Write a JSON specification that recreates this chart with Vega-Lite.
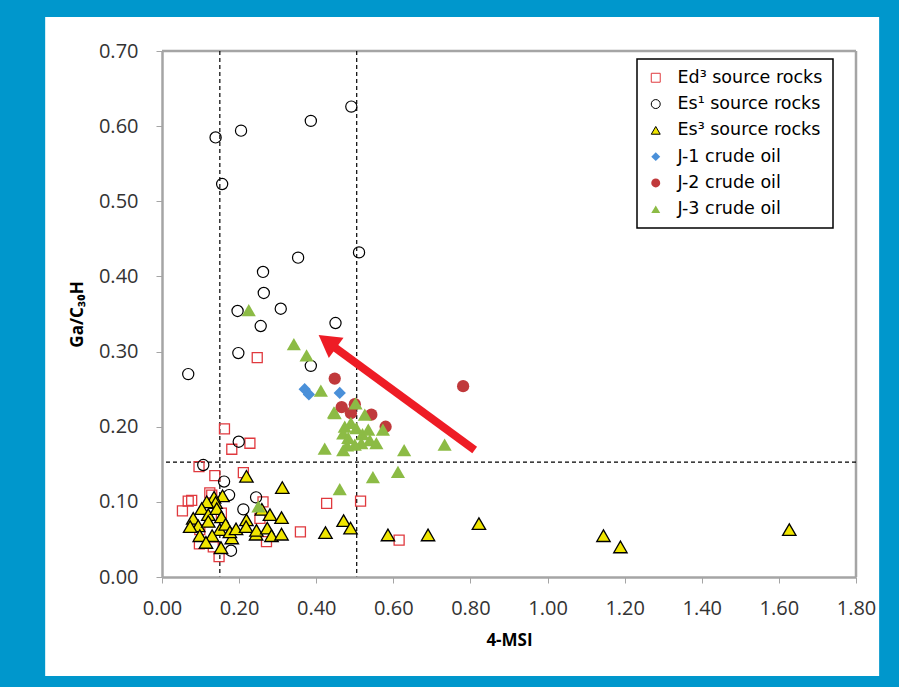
{
  "$schema": "https://vega.github.io/schema/vega-lite/v6.json",
  "width": 694,
  "height": 526,
  "autosize": {"type": "none"},
  "padding": {"left": 162, "top": 51, "right": 43, "bottom": 110},
  "background": "#0097CC",
  "config": {
    "view": {"stroke": null},
    "axis": {
      "grid": false,
      "domainColor": "#A5A5A5", "domainWidth": 2.5,
      "tickColor": "#A5A5A5", "tickSize": 6, "tickWidth": 1,
      "labelFont": "Open Sans", "labelFontSize": 20, "labelColor": "#333333",
      "titleFont": "Open Sans", "titleFontSize": 17, "titleFontWeight": "bold", "titleColor": "#000000",
      "labelFlush": false, "labelOverlap": false
    },
    "legend": {
      "orient": "none", "legendX": 475, "legendY": 8,
      "strokeColor": "#000000", "strokeWidth": 1.5, "fillColor": "#FFFFFF",
      "padding": 10, "cornerRadius": 0,
      "labelFont": "DejaVu Sans", "labelFontSize": 17.5, "labelColor": "#000000",
      "symbolSize": 80, "rowPadding": 7.3, "labelOffset": 13, "symbolStrokeWidth": 1
    }
  },
  "data": {"values": [
    {"g": "Ed³ source rocks", "x": 0.162, "y": 0.197},
    {"g": "Ed³ source rocks", "x": 0.228, "y": 0.178},
    {"g": "Ed³ source rocks", "x": 0.181, "y": 0.170},
    {"g": "Ed³ source rocks", "x": 0.096, "y": 0.147},
    {"g": "Ed³ source rocks", "x": 0.137, "y": 0.135},
    {"g": "Ed³ source rocks", "x": 0.211, "y": 0.139},
    {"g": "Ed³ source rocks", "x": 0.247, "y": 0.292},
    {"g": "Ed³ source rocks", "x": 0.053, "y": 0.088},
    {"g": "Ed³ source rocks", "x": 0.077, "y": 0.102},
    {"g": "Ed³ source rocks", "x": 0.068, "y": 0.101},
    {"g": "Ed³ source rocks", "x": 0.129, "y": 0.109},
    {"g": "Ed³ source rocks", "x": 0.124, "y": 0.112},
    {"g": "Ed³ source rocks", "x": 0.154, "y": 0.085},
    {"g": "Ed³ source rocks", "x": 0.098, "y": 0.063},
    {"g": "Ed³ source rocks", "x": 0.097, "y": 0.044},
    {"g": "Ed³ source rocks", "x": 0.133, "y": 0.040},
    {"g": "Ed³ source rocks", "x": 0.148, "y": 0.027},
    {"g": "Ed³ source rocks", "x": 0.254, "y": 0.078},
    {"g": "Ed³ source rocks", "x": 0.262, "y": 0.100},
    {"g": "Ed³ source rocks", "x": 0.271, "y": 0.047},
    {"g": "Ed³ source rocks", "x": 0.359, "y": 0.060},
    {"g": "Ed³ source rocks", "x": 0.427, "y": 0.098},
    {"g": "Ed³ source rocks", "x": 0.515, "y": 0.101},
    {"g": "Ed³ source rocks", "x": 0.615, "y": 0.049},
    {"g": "Es¹ source rocks", "x": 0.139, "y": 0.585},
    {"g": "Es¹ source rocks", "x": 0.205, "y": 0.594},
    {"g": "Es¹ source rocks", "x": 0.386, "y": 0.607},
    {"g": "Es¹ source rocks", "x": 0.491, "y": 0.626},
    {"g": "Es¹ source rocks", "x": 0.156, "y": 0.523},
    {"g": "Es¹ source rocks", "x": 0.511, "y": 0.432},
    {"g": "Es¹ source rocks", "x": 0.353, "y": 0.425},
    {"g": "Es¹ source rocks", "x": 0.262, "y": 0.406},
    {"g": "Es¹ source rocks", "x": 0.264, "y": 0.378},
    {"g": "Es¹ source rocks", "x": 0.308, "y": 0.357},
    {"g": "Es¹ source rocks", "x": 0.196, "y": 0.354},
    {"g": "Es¹ source rocks", "x": 0.256, "y": 0.334},
    {"g": "Es¹ source rocks", "x": 0.450, "y": 0.338},
    {"g": "Es¹ source rocks", "x": 0.198, "y": 0.298},
    {"g": "Es¹ source rocks", "x": 0.068, "y": 0.270},
    {"g": "Es¹ source rocks", "x": 0.386, "y": 0.281},
    {"g": "Es¹ source rocks", "x": 0.199, "y": 0.180},
    {"g": "Es¹ source rocks", "x": 0.107, "y": 0.149},
    {"g": "Es¹ source rocks", "x": 0.161, "y": 0.127},
    {"g": "Es¹ source rocks", "x": 0.174, "y": 0.109},
    {"g": "Es¹ source rocks", "x": 0.244, "y": 0.106},
    {"g": "Es¹ source rocks", "x": 0.211, "y": 0.090},
    {"g": "Es¹ source rocks", "x": 0.179, "y": 0.035},
    {"g": "Es³ source rocks", "x": 0.219, "y": 0.134},
    {"g": "Es³ source rocks", "x": 0.312, "y": 0.119},
    {"g": "Es³ source rocks", "x": 0.157, "y": 0.108},
    {"g": "Es³ source rocks", "x": 0.135, "y": 0.106},
    {"g": "Es³ source rocks", "x": 0.139, "y": 0.099},
    {"g": "Es³ source rocks", "x": 0.116, "y": 0.100},
    {"g": "Es³ source rocks", "x": 0.103, "y": 0.091},
    {"g": "Es³ source rocks", "x": 0.081, "y": 0.078},
    {"g": "Es³ source rocks", "x": 0.120, "y": 0.083},
    {"g": "Es³ source rocks", "x": 0.142, "y": 0.091},
    {"g": "Es³ source rocks", "x": 0.154, "y": 0.080},
    {"g": "Es³ source rocks", "x": 0.094, "y": 0.068},
    {"g": "Es³ source rocks", "x": 0.073, "y": 0.067},
    {"g": "Es³ source rocks", "x": 0.120, "y": 0.074},
    {"g": "Es³ source rocks", "x": 0.150, "y": 0.063},
    {"g": "Es³ source rocks", "x": 0.165, "y": 0.070},
    {"g": "Es³ source rocks", "x": 0.098, "y": 0.055},
    {"g": "Es³ source rocks", "x": 0.130, "y": 0.055},
    {"g": "Es³ source rocks", "x": 0.114, "y": 0.046},
    {"g": "Es³ source rocks", "x": 0.153, "y": 0.039},
    {"g": "Es³ source rocks", "x": 0.181, "y": 0.052},
    {"g": "Es³ source rocks", "x": 0.176, "y": 0.060},
    {"g": "Es³ source rocks", "x": 0.192, "y": 0.064},
    {"g": "Es³ source rocks", "x": 0.219, "y": 0.076},
    {"g": "Es³ source rocks", "x": 0.218, "y": 0.067},
    {"g": "Es³ source rocks", "x": 0.244, "y": 0.057},
    {"g": "Es³ source rocks", "x": 0.245, "y": 0.062},
    {"g": "Es³ source rocks", "x": 0.259, "y": 0.090},
    {"g": "Es³ source rocks", "x": 0.280, "y": 0.083},
    {"g": "Es³ source rocks", "x": 0.310, "y": 0.079},
    {"g": "Es³ source rocks", "x": 0.273, "y": 0.065},
    {"g": "Es³ source rocks", "x": 0.284, "y": 0.055},
    {"g": "Es³ source rocks", "x": 0.310, "y": 0.057},
    {"g": "Es³ source rocks", "x": 0.424, "y": 0.059},
    {"g": "Es³ source rocks", "x": 0.471, "y": 0.075},
    {"g": "Es³ source rocks", "x": 0.489, "y": 0.065},
    {"g": "Es³ source rocks", "x": 0.586, "y": 0.056},
    {"g": "Es³ source rocks", "x": 0.690, "y": 0.056},
    {"g": "Es³ source rocks", "x": 0.822, "y": 0.071},
    {"g": "Es³ source rocks", "x": 1.145, "y": 0.055},
    {"g": "Es³ source rocks", "x": 1.189, "y": 0.040},
    {"g": "Es³ source rocks", "x": 1.627, "y": 0.063},
    {"g": "J-1 crude oil", "x": 0.370, "y": 0.250},
    {"g": "J-1 crude oil", "x": 0.381, "y": 0.243},
    {"g": "J-1 crude oil", "x": 0.461, "y": 0.245},
    {"g": "J-2 crude oil", "x": 0.448, "y": 0.264},
    {"g": "J-2 crude oil", "x": 0.466, "y": 0.226},
    {"g": "J-2 crude oil", "x": 0.490, "y": 0.218},
    {"g": "J-2 crude oil", "x": 0.500, "y": 0.230},
    {"g": "J-2 crude oil", "x": 0.543, "y": 0.216},
    {"g": "J-2 crude oil", "x": 0.580, "y": 0.200},
    {"g": "J-2 crude oil", "x": 0.781, "y": 0.254},
    {"g": "J-3 crude oil", "x": 0.225, "y": 0.355},
    {"g": "J-3 crude oil", "x": 0.342, "y": 0.310},
    {"g": "J-3 crude oil", "x": 0.375, "y": 0.295},
    {"g": "J-3 crude oil", "x": 0.412, "y": 0.248},
    {"g": "J-3 crude oil", "x": 0.448, "y": 0.218},
    {"g": "J-3 crude oil", "x": 0.446, "y": 0.219},
    {"g": "J-3 crude oil", "x": 0.502, "y": 0.231},
    {"g": "J-3 crude oil", "x": 0.526, "y": 0.216},
    {"g": "J-3 crude oil", "x": 0.573, "y": 0.196},
    {"g": "J-3 crude oil", "x": 0.490, "y": 0.205},
    {"g": "J-3 crude oil", "x": 0.474, "y": 0.200},
    {"g": "J-3 crude oil", "x": 0.470, "y": 0.191},
    {"g": "J-3 crude oil", "x": 0.483, "y": 0.185},
    {"g": "J-3 crude oil", "x": 0.504, "y": 0.198},
    {"g": "J-3 crude oil", "x": 0.520, "y": 0.190},
    {"g": "J-3 crude oil", "x": 0.535, "y": 0.196},
    {"g": "J-3 crude oil", "x": 0.539, "y": 0.182},
    {"g": "J-3 crude oil", "x": 0.556, "y": 0.178},
    {"g": "J-3 crude oil", "x": 0.517, "y": 0.178},
    {"g": "J-3 crude oil", "x": 0.500, "y": 0.176},
    {"g": "J-3 crude oil", "x": 0.480, "y": 0.175},
    {"g": "J-3 crude oil", "x": 0.470, "y": 0.169},
    {"g": "J-3 crude oil", "x": 0.422, "y": 0.171},
    {"g": "J-3 crude oil", "x": 0.628, "y": 0.169},
    {"g": "J-3 crude oil", "x": 0.733, "y": 0.176},
    {"g": "J-3 crude oil", "x": 0.612, "y": 0.140},
    {"g": "J-3 crude oil", "x": 0.547, "y": 0.133},
    {"g": "J-3 crude oil", "x": 0.461, "y": 0.117},
    {"g": "J-3 crude oil", "x": 0.250, "y": 0.094}
  ]},
  "layer": [
    {
      "data": {"values": [{}]},
      "mark": {"type": "rect", "fill": "#FFFFFF", "clip": false},
      "encoding": {
        "x": {"datum": -0.303, "type": "quantitative",
              "scale": {"domain": [0, 1.8], "nice": false, "zero": false},
              "axis": {"title": "4-MSI", "zindex": 2, "values": [0, 0.2, 0.4, 0.6, 0.8, 1.0, 1.2, 1.4, 1.6, 1.8], "format": ".2f", "labelPadding": 15, "titlePadding": 14}},
        "x2": {"datum": 1.86},
        "y": {"datum": 0.7453, "type": "quantitative",
              "scale": {"domain": [0, 0.7], "nice": false, "zero": false},
              "axis": {"title": "Ga/C₃₀H", "zindex": 2, "values": [0, 0.1, 0.2, 0.3, 0.4, 0.5, 0.6, 0.7], "format": ".2f", "labelPadding": 18, "titlePadding": 12}},
        "y2": {"datum": -0.1318}
      }
    },
    {
      "data": {"values": [{}]},
      "mark": {"type": "rule", "color": "#A5A5A5", "strokeWidth": 2.5},
      "encoding": {"y": {"datum": 0.7, "type": "quantitative"}}
    },
    {
      "data": {"values": [{}]},
      "mark": {"type": "rule", "color": "#A5A5A5", "strokeWidth": 2.5},
      "encoding": {"x": {"datum": 1.8, "type": "quantitative"}}
    },
    {
      "data": {"values": [{}]},
      "mark": {"type": "rule", "color": "#000000", "strokeWidth": 1.2, "strokeDash": [4, 3]},
      "encoding": {"x": {"datum": 0.15, "type": "quantitative"}}
    },
    {
      "data": {"values": [{}]},
      "mark": {"type": "rule", "color": "#000000", "strokeWidth": 1.2, "strokeDash": [4, 3]},
      "encoding": {"x": {"datum": 0.505, "type": "quantitative"}}
    },
    {
      "data": {"values": [{}]},
      "mark": {"type": "rule", "color": "#000000", "strokeWidth": 1.2, "strokeDash": [4, 3]},
      "encoding": {"y": {"datum": 0.153, "type": "quantitative"}}
    },
    {
      "transform": [{"filter": "datum.g === 'Ed³ source rocks'"}],
      "mark": {"type": "point", "size": 100, "strokeWidth": 1.3, "opacity": 1},
      "encoding": {
        "x": {"field": "x", "type": "quantitative"},
        "y": {"field": "y", "type": "quantitative"},
        "shape": {"field": "g", "type": "nominal", "legend": {"title": null},
                  "scale": {"domain": ["Ed³ source rocks", "Es¹ source rocks", "Es³ source rocks", "J-1 crude oil", "J-2 crude oil", "J-3 crude oil"],
                            "range": ["square", "circle", "triangle-up", "diamond", "circle", "triangle-up"]}},
        "fill": {"field": "g", "type": "nominal", "legend": {"title": null},
                 "scale": {"domain": ["Ed³ source rocks", "Es¹ source rocks", "Es³ source rocks", "J-1 crude oil", "J-2 crude oil", "J-3 crude oil"],
                           "range": ["transparent", "transparent", "#F0E500", "#4A90D9", "#C0393B", "#8CBB45"]}},
        "stroke": {"field": "g", "type": "nominal", "legend": {"title": null},
                   "scale": {"domain": ["Ed³ source rocks", "Es¹ source rocks", "Es³ source rocks", "J-1 crude oil", "J-2 crude oil", "J-3 crude oil"],
                             "range": ["#E0393E", "#000000", "#000000", "transparent", "transparent", "transparent"]}}
      }
    },
    {
      "transform": [{"filter": "datum.g === 'Es¹ source rocks'"}],
      "mark": {"type": "point", "size": 125, "strokeWidth": 1.2, "opacity": 1},
      "encoding": {
        "x": {"field": "x", "type": "quantitative"},
        "y": {"field": "y", "type": "quantitative"},
        "shape": {"field": "g", "type": "nominal", "legend": {"title": null}},
        "fill": {"field": "g", "type": "nominal", "legend": {"title": null}},
        "stroke": {"field": "g", "type": "nominal", "legend": {"title": null}}
      }
    },
    {
      "transform": [{"filter": "datum.g === 'Es³ source rocks'"}],
      "mark": {"type": "point", "size": 180, "strokeWidth": 1.3, "opacity": 1},
      "encoding": {
        "x": {"field": "x", "type": "quantitative"},
        "y": {"field": "y", "type": "quantitative"},
        "shape": {"field": "g", "type": "nominal", "legend": {"title": null}},
        "fill": {"field": "g", "type": "nominal", "legend": {"title": null}},
        "stroke": {"field": "g", "type": "nominal", "legend": {"title": null}}
      }
    },
    {
      "transform": [{"filter": "datum.g === 'J-1 crude oil'"}],
      "mark": {"type": "point", "size": 150, "strokeWidth": 0, "opacity": 1},
      "encoding": {
        "x": {"field": "x", "type": "quantitative"},
        "y": {"field": "y", "type": "quantitative"},
        "shape": {"field": "g", "type": "nominal", "legend": {"title": null}},
        "fill": {"field": "g", "type": "nominal", "legend": {"title": null}},
        "stroke": {"field": "g", "type": "nominal", "legend": {"title": null}}
      }
    },
    {
      "transform": [{"filter": "datum.g === 'J-2 crude oil'"}],
      "mark": {"type": "point", "size": 150, "strokeWidth": 0, "opacity": 1},
      "encoding": {
        "x": {"field": "x", "type": "quantitative"},
        "y": {"field": "y", "type": "quantitative"},
        "shape": {"field": "g", "type": "nominal", "legend": {"title": null}},
        "fill": {"field": "g", "type": "nominal", "legend": {"title": null}},
        "stroke": {"field": "g", "type": "nominal", "legend": {"title": null}}
      }
    },
    {
      "transform": [{"filter": "datum.g === 'J-3 crude oil'"}],
      "mark": {"type": "point", "size": 200, "strokeWidth": 0, "opacity": 1},
      "encoding": {
        "x": {"field": "x", "type": "quantitative"},
        "y": {"field": "y", "type": "quantitative"},
        "shape": {"field": "g", "type": "nominal", "legend": {"title": null}},
        "fill": {"field": "g", "type": "nominal", "legend": {"title": null}},
        "stroke": {"field": "g", "type": "nominal", "legend": {"title": null}}
      }
    },
    {
      "data": {"values": [{}]},
      "mark": {"type": "rule", "color": "#EE1C25", "strokeWidth": 8, "strokeCap": "butt"},
      "encoding": {
        "x": {"datum": 0.811, "type": "quantitative"},
        "y": {"datum": 0.169, "type": "quantitative"},
        "x2": {"datum": 0.443},
        "y2": {"datum": 0.3074}
      }
    },
    {
      "data": {"values": [{}]},
      "mark": {"type": "point", "shape": "triangle-up", "size": 625, "angle": 306, "filled": true, "color": "#EE1C25", "opacity": 1},
      "encoding": {
        "x": {"datum": 0.429, "type": "quantitative"},
        "y": {"datum": 0.3135, "type": "quantitative"}
      }
    }
  ]
}
